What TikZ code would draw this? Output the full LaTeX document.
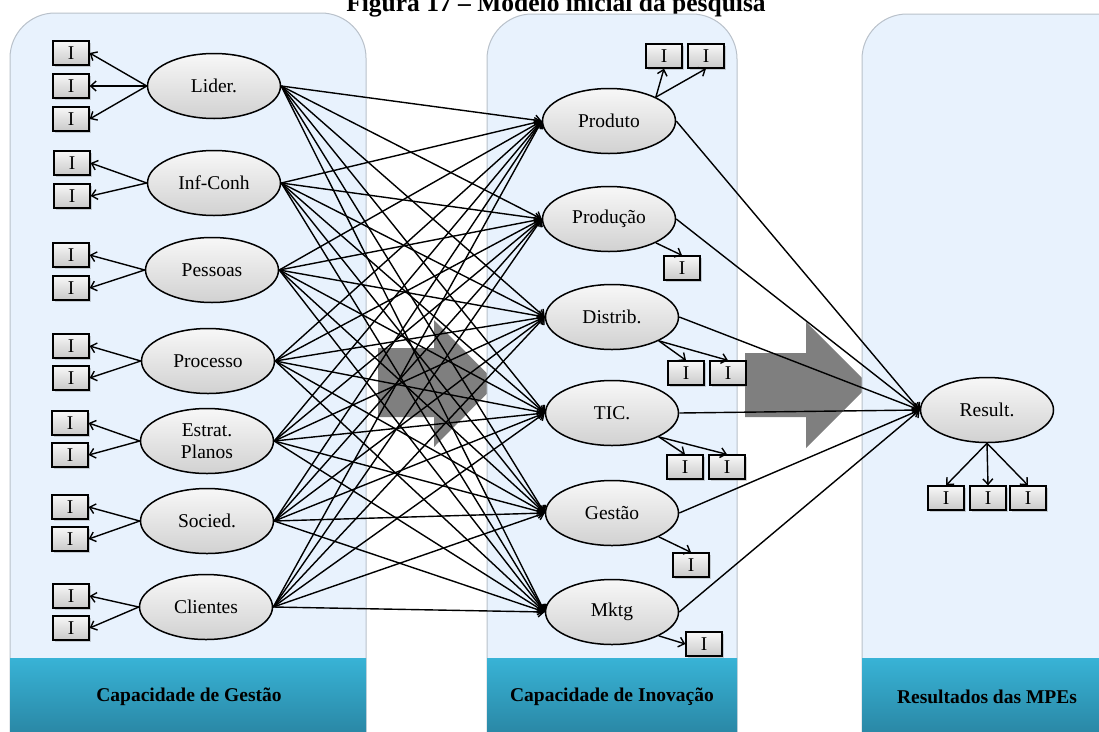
\documentclass[tikz,border=0pt]{standalone}
\usepackage{fontspec}
\setmainfont{Liberation Serif}
\usetikzlibrary{arrows.meta,shadows,shapes.geometric}

\definecolor{panelfill}{HTML}{E8F2FD}
\definecolor{panelline}{HTML}{B9C1CA}
\definecolor{bandtop}{HTML}{38B3D6}
\definecolor{bandbot}{HTML}{2A88A6}
\definecolor{bigarrow}{HTML}{7F7F7F}

\begin{document}
\begin{tikzpicture}[x=1pt,y=-1pt,
  construct/.style={ellipse, draw=black, line width=1.5pt, top color=gray!6,
    bottom color=gray!36, minimum width=133pt, minimum height=65pt,
    inner sep=0pt, font=\fontsize{19.5}{22}\selectfont, align=center},
  indicator/.style={rectangle, draw=black, line width=1.3pt, top color=gray!6,
    bottom color=gray!42, minimum width=36pt, minimum height=24pt,
    inner sep=0pt, font=\fontsize{19.5}{22}\selectfont,
    drop shadow={shadow xshift=1.5pt, shadow yshift=-1.5pt, opacity=0.35}},
  link/.style={line width=1.4pt, -{Straight Barb[length=5.5pt,width=10pt]}},
  panel/.style={fill=panelfill, draw=panelline, line width=1pt, rounded corners=45pt},
  band/.style={top color=bandtop, bottom color=bandbot, draw=none},
  bandlabel/.style={font=\fontsize{19.5}{22}\selectfont\bfseries},
  bigarrowshape/.style={fill=bigarrow, draw=none}
]
\useasboundingbox (0,0) rectangle (1099,731);
\clip (0,0) rectangle (1099,731);

% caption
\node[anchor=base, font=\fontsize{25.5}{30}\selectfont\bfseries, inner sep=0pt]
  (title) at (556,11) {Figura 17 – Modelo inicial da pesquisa};

% broad gray arrows between the columns
\fill[bigarrowshape] (378,348) -- (434,348) -- (434,320) -- (497,383.5)
  -- (434,447) -- (434,417) -- (378,417) -- cycle;
\fill[bigarrowshape] (745,353) -- (806,353) -- (806,322) -- (869,385)
  -- (806,448) -- (806,417) -- (745,417) -- cycle;

% columns
\draw[panel] (10,13) rectangle (366,800);
\draw[panel] (487,14) rectangle (737,800);
\draw[panel] (862,14) rectangle (1160,800);
\fill[band] (10,658) rectangle (366,732);
\fill[band] (487,658) rectangle (737,732);
\fill[band] (862,658) rectangle (1100,732);
\node[bandlabel] (lg) at (189,697) {Capacidade de Gestão};
\node[bandlabel] (li) at (612,697) {Capacidade de Inovação};
\node[bandlabel] (lr) at (987,697) {Resultados das MPEs};

% management constructs
\node[construct] (g1) at (214,86) {Lider.};
\node[construct] (g2) at (214,183) {Inf-Conh};
\node[construct] (g3) at (212,270) {Pessoas};
\node[construct] (g4) at (208,361) {Processo};
\node[construct] (g5) at (207,441) {Estrat.\\Planos};
\node[construct] (g6) at (207,521) {Socied.};
\node[construct] (g7) at (206,607) {Clientes};

% innovation constructs
\node[construct] (v1) at (609,121) {Produto};
\node[construct] (v2) at (609,219) {Produção};
\node[construct] (v3) at (612,317) {Distrib.};
\node[construct] (v4) at (612,413) {TIC.};
\node[construct] (v5) at (612,513) {Gestão};
\node[construct] (v6) at (612,612) {Mktg};

% results construct
\node[construct] (r) at (987,410) {Result.};

% indicators of the management constructs
\node[indicator] (g1a) at (71,53) {I};
\node[indicator] (g1b) at (71,86) {I};
\node[indicator] (g1c) at (71,119) {I};
\node[indicator] (g2a) at (72,163) {I};
\node[indicator] (g2b) at (72,196) {I};
\node[indicator] (g3a) at (71,255) {I};
\node[indicator] (g3b) at (71,288) {I};
\node[indicator] (g4a) at (71,346) {I};
\node[indicator] (g4b) at (71,378) {I};
\node[indicator] (g5a) at (70,423) {I};
\node[indicator] (g5b) at (70,455) {I};
\node[indicator] (g6a) at (70,507) {I};
\node[indicator] (g6b) at (70,539) {I};
\node[indicator] (g7a) at (71,596) {I};
\node[indicator] (g7b) at (71,628) {I};

% indicators of the innovation constructs
\node[indicator] (v1a) at (664,56) {I};
\node[indicator] (v1b) at (706,56) {I};
\node[indicator] (v2a) at (682,268) {I};
\node[indicator] (v3a) at (686,373) {I};
\node[indicator] (v3b) at (728,373) {I};
\node[indicator] (v4a) at (685,467) {I};
\node[indicator] (v4b) at (727,467) {I};
\node[indicator] (v5a) at (691,565) {I};
\node[indicator] (v6a) at (704,644) {I};

% indicators of the results construct
\node[indicator] (ra) at (946,498) {I};
\node[indicator] (rb) at (988,498) {I};
\node[indicator] (rc) at (1028,498) {I};

% measurement links
\foreach \c/\i in {g1/g1a,g1/g1b,g1/g1c,g2/g2a,g2/g2b,g3/g3a,g3/g3b,
                   g4/g4a,g4/g4b,g5/g5a,g5/g5b,g6/g6a,g6/g6b,g7/g7a,g7/g7b}
  \draw[link] (\c.west) -- (\i.east);
\draw[link] (v1.27) -- (v1a.south);
\draw[link] (v1.27) -- (v1b.south);
\draw[link] (v2.-27) -- (v2a.north);
\draw[link] (v3.-27) -- (v3a.north);
\draw[link] (v3.-27) -- (v3b.north);
\draw[link] (v4.-27) -- (v4a.north);
\draw[link] (v4.-27) -- (v4b.north);
\draw[link] (v5.-27) -- (v5a.north);
\draw[link] (v6.-27) -- (v6a.west);
\draw[link] (r.south) -- (ra.north);
\draw[link] (r.south) -- (rb.north);
\draw[link] (r.south) -- (rc.north);

% structural paths
\foreach \g in {g1,g2,g3,g4,g5,g6,g7}
  \foreach \v in {v1,v2,v3,v4,v5,v6}
    \draw[link] (\g.east) -- (\v.west);
\foreach \v in {v1,v2,v3,v4,v5,v6}
  \draw[link] (\v.east) -- (r.west);
\end{tikzpicture}
\end{document}
